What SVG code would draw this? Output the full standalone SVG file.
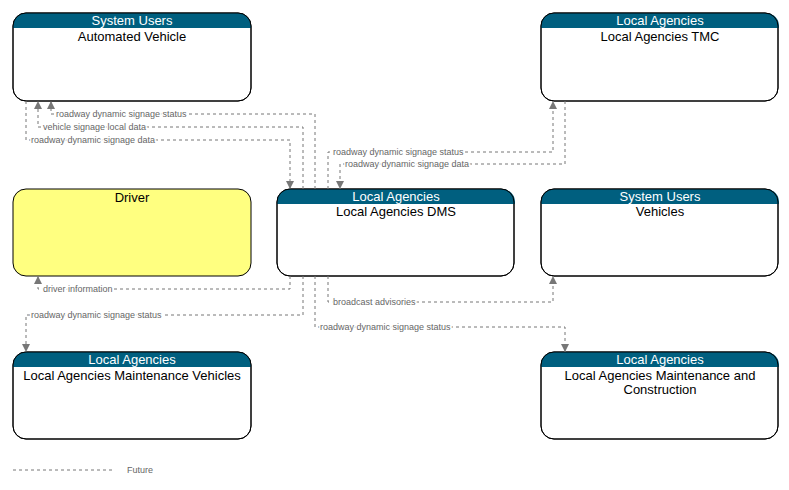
<svg xmlns="http://www.w3.org/2000/svg" width="789" height="490" viewBox="0 0 789 490">
<style>
.box{fill:#fff;stroke:#000;stroke-width:1}
.hdr{fill:#005f7f}
.ht{font-family:"Liberation Sans",Arial,sans-serif;font-size:13px;fill:#fff;text-anchor:middle}
.nt{font-family:"Liberation Sans",Arial,sans-serif;font-size:13px;fill:#000;text-anchor:middle}
.c{fill:none;stroke:#777;stroke-width:1;stroke-dasharray:3,3}
.lb{font-family:"Liberation Sans",Arial,sans-serif;font-size:9px;fill:#666}
</style>
<defs>
<marker id="a" viewBox="0 0 8 8" refX="8" refY="4" markerWidth="8" markerHeight="8" orient="auto" markerUnits="userSpaceOnUse"><path d="M0,0L8,4L0,8z" fill="#777"/></marker>
<clipPath id="cp"><rect x="0" y="0" width="238" height="88" rx="13"/></clipPath>
</defs>
<g id="av" transform="translate(13,13)"><rect class="box" width="238" height="88" rx="13"/><rect class="hdr" width="238" height="15" clip-path="url(#cp)"/><rect width="238" height="88" rx="13" fill="none" stroke="#000"/><text class="ht" x="119" y="12">System Users</text><text class="nt" x="119" y="28">Automated Vehicle</text></g>
<g id="tmc" transform="translate(541,13)"><rect class="box" width="237" height="88" rx="13"/><rect class="hdr" width="238" height="15" clip-path="url(#cp)"/><rect width="237" height="88" rx="13" fill="none" stroke="#000"/><text class="ht" x="119" y="12">Local Agencies</text><text class="nt" x="119" y="28">Local Agencies TMC</text></g>
<g id="driver" transform="translate(13,189)"><rect width="238" height="87" rx="13" fill="#ffff80" stroke="#000"/><text class="nt" x="119" y="13">Driver</text></g>
<g id="dms" transform="translate(277,189)"><rect class="box" width="237" height="87" rx="13"/><rect class="hdr" width="238" height="15" clip-path="url(#cp)"/><rect width="237" height="87" rx="13" fill="none" stroke="#000"/><text class="ht" x="119" y="12">Local Agencies</text><text class="nt" x="119" y="27">Local Agencies DMS</text></g>
<g id="veh" transform="translate(541,189)"><rect class="box" width="237" height="87" rx="13"/><rect class="hdr" width="238" height="15" clip-path="url(#cp)"/><rect width="237" height="87" rx="13" fill="none" stroke="#000"/><text class="ht" x="119" y="12">System Users</text><text class="nt" x="119" y="27">Vehicles</text></g>
<g id="mv" transform="translate(13,352)"><rect class="box" width="238" height="87" rx="13"/><rect class="hdr" width="238" height="15" clip-path="url(#cp)"/><rect width="238" height="87" rx="13" fill="none" stroke="#000"/><text class="ht" x="119" y="12">Local Agencies</text><text class="nt" x="119" y="28">Local Agencies Maintenance Vehicles</text></g>
<g id="mc" transform="translate(541,352)"><rect class="box" width="237" height="87" rx="13"/><rect class="hdr" width="238" height="15" clip-path="url(#cp)"/><rect width="237" height="87" rx="13" fill="none" stroke="#000"/><text class="ht" x="119" y="12">Local Agencies</text><text class="nt" x="119" y="28">Local Agencies Maintenance and</text><text class="nt" x="119" y="42">Construction</text></g>
<g id="connectors">
<path class="c" d="M315,189V114H51V101" marker-end="url(#a)"/>
<path class="c" d="M303,189V127H38V101" marker-end="url(#a)"/>
<path class="c" d="M26,101V140H290V189" marker-end="url(#a)"/>
<path class="c" d="M328,189V152H553V101" marker-end="url(#a)"/>
<path class="c" d="M565,101V164H340V189" marker-end="url(#a)"/>
<path class="c" d="M290,276V289H38V276" marker-end="url(#a)"/>
<path class="c" d="M303,276V315H26V352" marker-end="url(#a)"/>
<path class="c" d="M328,276V302H553V276" marker-end="url(#a)"/>
<path class="c" d="M315,276V327H565V352" marker-end="url(#a)"/>
<g class="lb">
<text x="56" y="117" style="fill:#666" stroke="#fff" stroke-width="3" paint-order="stroke">roadway dynamic signage status</text>
<text x="43" y="130" stroke="#fff" stroke-width="3" paint-order="stroke">vehicle signage local data</text>
<text x="31" y="143" stroke="#fff" stroke-width="3" paint-order="stroke">roadway dynamic signage data</text>
<text x="333" y="155" stroke="#fff" stroke-width="3" paint-order="stroke">roadway dynamic signage status</text>
<text x="345" y="167" stroke="#fff" stroke-width="3" paint-order="stroke">roadway dynamic signage data</text>
<text x="43" y="292" stroke="#fff" stroke-width="3" paint-order="stroke">driver information</text>
<text x="31" y="318" stroke="#fff" stroke-width="3" paint-order="stroke">roadway dynamic signage status</text>
<text x="333" y="305" stroke="#fff" stroke-width="3" paint-order="stroke">broadcast advisories</text>
<text x="320" y="330" stroke="#fff" stroke-width="3" paint-order="stroke">roadway dynamic signage status</text>
</g>
</g>
<g id="legend"><line class="c" x1="13" y1="470" x2="112" y2="470"/><text class="lb" x="127" y="473">Future</text></g>
</svg>
